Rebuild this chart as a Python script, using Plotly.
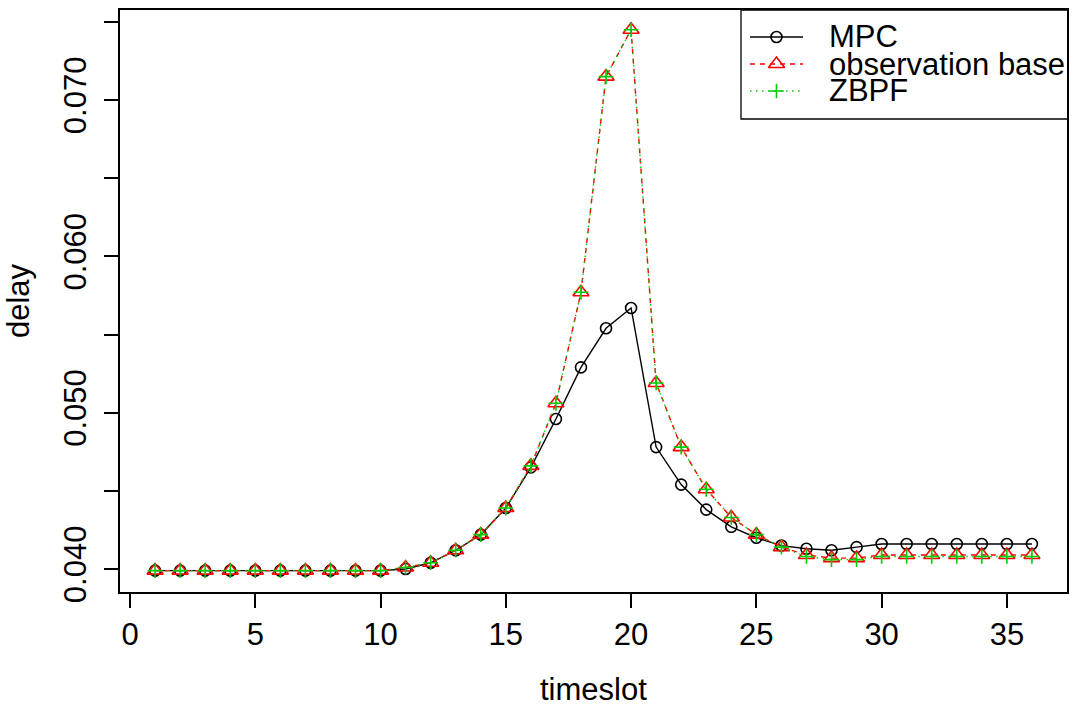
import plotly.graph_objects as go

# ---------------- data ----------------
timeslot = list(range(1, 37))
mpc = [0.0399, 0.0399, 0.0399, 0.0399, 0.0399, 0.0399, 0.0399, 0.0399, 0.0399, 0.0399,
       0.0400, 0.0404, 0.0412, 0.0422, 0.0439, 0.0465, 0.0496, 0.0529, 0.0554, 0.0567,
       0.0478, 0.0454, 0.0438, 0.0427, 0.0420, 0.0415, 0.0413, 0.0412, 0.0414,
       0.0416, 0.0416, 0.0416, 0.0416, 0.0416, 0.0416, 0.0416]
obs_base = [0.0399, 0.0399, 0.0399, 0.0399, 0.0399, 0.0399, 0.0399, 0.0399, 0.0399, 0.0399,
            0.0401, 0.0404, 0.0412, 0.0422, 0.0439, 0.0466, 0.0506, 0.0577, 0.0715, 0.0745,
            0.0519, 0.0478, 0.0451, 0.0433, 0.0422, 0.0414, 0.0409, 0.0407, 0.0407,
            0.0409, 0.0409, 0.0409, 0.0409, 0.0409, 0.0409, 0.0409]
zbpf = [0.0399, 0.0399, 0.0399, 0.0399, 0.0399, 0.0399, 0.0399, 0.0399, 0.0399, 0.0399,
        0.0401, 0.0404, 0.0412, 0.0422, 0.0439, 0.0466, 0.0506, 0.0577, 0.0715, 0.0745,
        0.0519, 0.0478, 0.0451, 0.0433, 0.0422, 0.0414, 0.0408, 0.0406, 0.0406,
        0.0408, 0.0408, 0.0408, 0.0408, 0.0408, 0.0408, 0.0408]
series_names = ["MPC", "observation base", "ZBPF"]
x_tickvals = [0, 5, 10, 15, 20, 25, 30, 35]
y_tickvals = [0.040, 0.045, 0.050, 0.055, 0.060, 0.065, 0.070, 0.075]
y_ticktext = ["0.040", "", "0.050", "", "0.060", "", "0.070", ""]

# ---------------- styles ----------------
FONT = "Liberation Sans, Arial, Helvetica, sans-serif"
FS = 31
RED = "#FF0000"
GREEN = "#00CD00"
W, H = 1077, 709
L, R, T, B = 120, 10, 10, 117
PW, PH = W - L - R, H - T - B

def px_x(px):
    return (px - L) / PW

def px_y(py):
    return (H - B - py) / PH

styles = [
    dict(color="black", dash="solid", symbol="circle-open", size=11),
    dict(color=RED, dash="5px,5px", symbol="triangle-up-open", size=14),
    dict(color=GREEN, dash="1.5px,4.5px", symbol="cross-thin-open", size=10.5),
]
data = [mpc, obs_base, zbpf]

fig = go.Figure()
for name, ys, st in zip(series_names, data, styles):
    fig.add_trace(go.Scatter(
        x=timeslot, y=ys, name=name, mode="lines+markers",
        line=dict(color=st["color"], width=1.4, dash=st["dash"]),
        marker=dict(symbol=st["symbol"], size=st["size"], color=st["color"],
                    line=dict(color=st["color"], width=1.6)),
        showlegend=False, cliponaxis=False,
    ))

# ---------------- manual R-style legend ----------------
box_l, box_r, box_t, box_b = 741, 1068, 10, 119
row_y = [37, 64, 91]
line_x0, line_x1, text_x = 750, 803, 828
fig.add_shape(type="rect", xref="paper", yref="paper",
              x0=px_x(box_l), x1=px_x(box_r), y0=px_y(box_b), y1=px_y(box_t),
              line=dict(color="black", width=1.3), fillcolor="white", layer="below")
for name, st, ry in zip(series_names, styles, row_y):
    fig.add_trace(go.Scatter(
        x=[px_x(line_x0), px_x((line_x0 + line_x1) / 2), px_x(line_x1)],
        y=[px_y(ry)] * 3, xaxis="x2", yaxis="y2", mode="lines",
        line=dict(color=st["color"], width=1.4, dash=st["dash"]),
        showlegend=False, hoverinfo="skip"))
    fig.add_trace(go.Scatter(
        x=[px_x((line_x0 + line_x1) / 2)], y=[px_y(ry)], xaxis="x2", yaxis="y2",
        mode="markers",
        marker=dict(symbol=st["symbol"], size=st["size"], color=st["color"],
                    line=dict(color=st["color"], width=1.6)),
        showlegend=False, hoverinfo="skip"))
    fig.add_annotation(text=name, xref="paper", yref="paper",
                       x=px_x(text_x), y=px_y(ry), xanchor="left", yanchor="middle",
                       height=27, valign="middle", borderpad=0,
                       showarrow=False, font=dict(family=FONT, size=FS, color="black"))

# axis titles as annotations (R places them at fixed line offsets)
fig.add_annotation(text="timeslot", xref="paper", yref="paper",
                   x=0.5, y=px_y(708), xanchor="center", yanchor="bottom", borderpad=0,
                   showarrow=False, font=dict(family=FONT, size=FS, color="black"))
fig.add_annotation(text="delay", xref="paper", yref="paper", textangle=-90,
                   x=px_x(18), y=px_y(301), xanchor="center", yanchor="middle",
                   showarrow=False, font=dict(family=FONT, size=FS, color="black"))

axis_common = dict(showline=True, linecolor="black", linewidth=1.5, mirror=True,
                   ticks="outside", ticklen=14, tickwidth=1.5, tickcolor="black",
                   showgrid=False, zeroline=False, automargin=False,
                   tickfont=dict(family=FONT, size=FS, color="black"))

fig.update_layout(
    width=W, height=H,
    margin=dict(l=L, r=R, t=T, b=B, pad=0),
    paper_bgcolor="white", plot_bgcolor="white",
    font=dict(family=FONT, size=FS, color="black"),
    xaxis=dict(range=[-0.4, 37.4], tickvals=x_tickvals, **axis_common),
    yaxis=dict(range=[0.03853, 0.07576], tickvals=y_tickvals, ticktext=y_ticktext,
               tickangle=-90, ticklabelstandoff=6, **axis_common),
    xaxis2=dict(overlaying="x", range=[0, 1], visible=False, fixedrange=True),
    yaxis2=dict(overlaying="y", range=[0, 1], visible=False, fixedrange=True),
    showlegend=False,
)

fig.write_html("out.html", config={"displayModeBar": False},
               post_script="document.body.style.margin='0px';")
